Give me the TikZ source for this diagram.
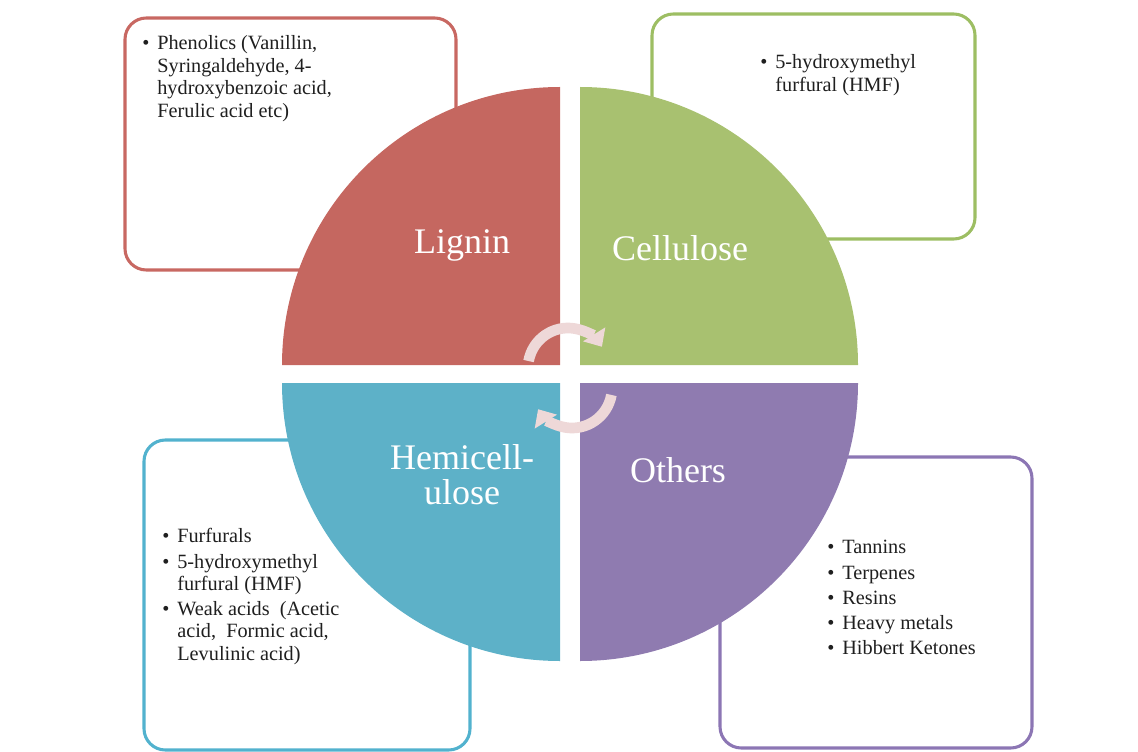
\documentclass[tikz,border=0pt]{standalone}
\usepackage{fontspec}
\setmainfont{Liberation Serif}
\usetikzlibrary{positioning,fit,arrows.meta}

\definecolor{lignincol}{RGB}{197,103,96}
\definecolor{cellcol}{RGB}{168,193,112}
\definecolor{hemicol}{RGB}{93,177,200}
\definecolor{othercol}{RGB}{143,123,176}
\definecolor{ligninline}{RGB}{200,104,98}
\definecolor{cellline}{RGB}{157,190,99}
\definecolor{hemiline}{RGB}{82,178,206}
\definecolor{otherline}{RGB}{140,118,180}
\definecolor{cyclecol}{RGB}{238,216,216}

\newcommand{\bulletlist}[1]{\begin{tabular}{@{}l@{\hspace{6pt}}l@{}}#1\end{tabular}}

\begin{document}
\begin{tikzpicture}[x=0.75pt, y=-0.75pt,
    infobox/.style={rectangle, rounded corners=16pt, line width=2.3pt, inner sep=0pt, fill=white},
    listtext/.style={anchor=north west, inner sep=0pt, font=\fontsize{15.2}{16.8}\selectfont, text=black!88},
    slicelabel/.style={font=\fontsize{27}{26}\selectfont, text=white, align=center},
    cyclearrow/.style={line width=8pt, cyclecol, -{Triangle[length=11pt,width=19pt]}}]
    \useasboundingbox (0,0) rectangle (1138,752);

    % Kaders
    \node[infobox, draw=ligninline, fit={(125,18) (456,270)}] (ligninbox) {};
    \node[infobox, draw=cellline, fit={(652,14) (975,239)}] (cellbox) {};
    \node[infobox, draw=hemiline, fit={(144,440) (470,750)}] (hemibox) {};
    \node[infobox, draw=otherline, fit={(720,457) (1032,748)}] (otherbox) {};

    % Taart
    \fill[lignincol] (560,365) -- ++(-278,0) arc[start angle=180, end angle=270, radius=278] -- cycle;
    \fill[cellcol] (580,365) -- ++(0,-278) arc[start angle=270, end angle=360, radius=278] -- cycle;
    \fill[hemicol] (560,383) -- ++(-278,0) arc[start angle=180, end angle=90, radius=278] -- cycle;
    \fill[othercol] (580,383) -- ++(278,0) arc[start angle=0, end angle=90, radius=278] -- cycle;

    \node[slicelabel] (lignin) at (462,245) {Lignin};
    \node[slicelabel] (cellulose) at (680,248) {Cellulose};
    \node[slicelabel] (hemi) at (462,475) {Hemicell-\\ulose};
    \node[slicelabel] (others) at (678,470) {Others};

    % Kringloop
    \draw[cyclearrow] (568,368) ++(190:40) arc[start angle=190, end angle=328, radius=40];
    \draw[cyclearrow] (572,388) ++(10:40) arc[start angle=10, end angle=148, radius=40];

    % Lijsten
    \node[listtext] (ligninlist) at (142,34) {\bulletlist{\textbullet & Phenolics (Vanillin,\\
        & Syringaldehyde, 4-\\ & hydroxybenzoic acid,\\ & Ferulic acid etc)}};
    \node[listtext] (celllist) at (760,53) {\bulletlist{\textbullet & 5-hydroxymethyl\\
        & furfural (HMF)}};
    \node[listtext] (hemilist) at (162,527) {\bulletlist{\textbullet & Furfurals\\[2pt]
        \textbullet & 5-hydroxymethyl\\ & furfural (HMF)\\[2pt]
        \textbullet & Weak acids~ (Acetic\\ & acid,~ Formic acid,\\ & Levulinic acid)}};
    \node[listtext] (otherlist) at (827,538) {\bulletlist{\textbullet & Tannins\\[2pt]
        \textbullet & Terpenes\\[2pt] \textbullet & Resins\\[2pt]
        \textbullet & Heavy metals\\[2pt] \textbullet & Hibbert Ketones}};
\end{tikzpicture}
\end{document}
